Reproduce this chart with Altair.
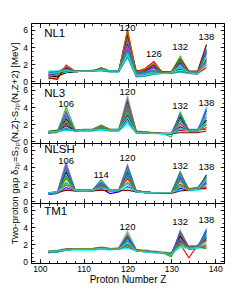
import altair as alt
import pandas as pd

# ---------------- data ----------------
Z = [102, 104, 106, 108, 110, 112, 114, 116, 118, 120, 122, 124, 126, 128, 130, 132, 134, 136, 138]

line_ids = ["L01", "L02", "L03", "L04", "L05", "L06", "L07", "L08", "L09", "L10",
            "L11", "L12", "L13", "L14"]
line_colors = ["#000000", "#ff0000", "#00dd00", "#0000ff", "#a0a0a0",
               "#ff00ff", "#1f8f1f", "#00ffff", "#00a0a0", "#990000",
               "#5954d9", "#009999", "#808000", "#33cccc"]

nl1 = [
    [0.5, 0.6, 1.0, 1.1, 1.2, 1.2, 1.3, 1.2, 1.2, 5.6, 0.6, 0.8, 1.0, 1.0, 1.0, 1.4, 1.0, 1.0, 2.6],
    [0.4, 0.2, 1.9, 1.2, 1.2, 1.2, 1.4, 1.2, 1.2, 6.0, 1.1, 1.5, 2.3, 1.0, 1.0, 1.2, 1.0, 0.9, 1.6],
    [0.9, 1.0, 1.1, 1.2, 1.2, 1.2, 1.5, 1.2, 1.2, 5.0, 0.8, 1.0, 1.3, 1.0, 1.1, 2.9, 1.1, 1.0, 1.9],
    [0.7, 0.9, 1.5, 1.2, 1.2, 1.2, 1.3, 1.2, 1.2, 4.4, 0.9, 1.2, 1.7, 1.0, 1.0, 2.2, 1.1, 1.1, 3.4],
    [1.0, 1.1, 1.7, 1.2, 1.2, 1.3, 1.4, 1.2, 1.2, 4.9, 1.0, 1.4, 2.0, 1.1, 1.1, 1.7, 1.1, 1.1, 3.0],
    [0.8, 0.9, 1.3, 1.1, 1.2, 1.2, 1.5, 1.2, 1.2, 3.9, 0.7, 0.9, 1.5, 1.0, 1.0, 2.5, 1.1, 1.0, 2.2],
    [1.1, 1.2, 1.2, 1.2, 1.2, 1.2, 1.6, 1.2, 1.2, 3.4, 1.1, 1.1, 1.1, 1.0, 1.0, 2.0, 1.0, 1.0, 4.2],
    [1.2, 1.2, 1.1, 1.2, 1.2, 1.2, 1.3, 1.1, 1.1, 3.0, 0.6, 0.7, 0.9, 0.9, 1.0, 1.3, 1.1, 1.0, 2.8],
    [0.6, 0.8, 1.2, 1.1, 1.2, 1.2, 1.2, 1.1, 1.1, 2.8, 0.5, 0.6, 0.8, 0.9, 0.9, 1.1, 0.9, 0.8, 3.8],
    [0.3, 0.4, 1.6, 1.2, 1.2, 1.2, 1.4, 1.2, 1.2, 5.3, 1.2, 1.3, 1.9, 1.1, 1.1, 2.6, 1.2, 1.2, 4.3],
    [0.8, 1.0, 1.4, 1.2, 1.2, 1.2, 1.4, 1.2, 1.2, 4.6, 0.8, 1.1, 1.6, 1.0, 1.0, 2.0, 1.0, 1.0, 3.6],
    [1.0, 1.1, 1.2, 1.2, 1.2, 1.2, 1.3, 1.2, 1.2, 3.7, 0.9, 1.0, 1.2, 1.0, 1.0, 1.6, 1.0, 1.0, 3.2],
    [0.6, 0.7, 1.8, 1.2, 1.2, 1.2, 1.5, 1.2, 1.2, 5.8, 1.0, 1.4, 2.1, 1.0, 1.1, 2.4, 1.1, 1.1, 2.4],
    [0.9, 1.0, 1.3, 1.1, 1.2, 1.2, 1.3, 1.2, 1.2, 3.2, 0.7, 0.8, 1.0, 0.9, 1.0, 1.8, 1.0, 0.9, 2.0],
]

nl3 = [
    [1.0, 1.1, 2.6, 1.3, 1.3, 1.3, 1.6, 1.3, 1.3, 4.5, 1.1, 1.0, 1.0, 0.9, 0.9, 2.8, 1.1, 1.1, 2.5],
    [1.1, 1.2, 1.5, 1.2, 1.3, 1.3, 1.8, 1.3, 1.3, 5.0, 1.2, 1.1, 1.0, 1.0, 0.9, 1.3, 1.2, 1.2, 1.6],
    [0.9, 1.0, 4.0, 1.4, 1.3, 1.3, 1.5, 1.3, 1.3, 3.2, 1.0, 1.0, 1.0, 0.9, 0.5, 3.4, 1.3, 1.3, 2.0],
    [1.0, 1.1, 1.8, 1.2, 1.3, 1.3, 1.4, 1.3, 1.3, 2.6, 1.0, 1.0, 0.9, 0.9, 0.8, 1.7, 1.2, 1.2, 3.6],
    [1.1, 1.2, 3.6, 1.3, 1.3, 1.4, 1.7, 1.4, 1.4, 5.3, 1.1, 1.1, 1.0, 1.0, 1.0, 2.3, 1.3, 1.3, 3.0],
    [1.0, 1.1, 3.1, 1.3, 1.3, 1.3, 1.5, 1.3, 1.3, 3.8, 1.0, 1.0, 0.9, 0.9, 0.9, 2.0, 1.2, 1.2, 2.3],
    [1.2, 1.3, 2.2, 1.3, 1.4, 1.4, 1.9, 1.4, 1.4, 4.1, 1.1, 1.1, 1.0, 0.9, 0.9, 3.0, 1.3, 1.3, 1.4],
    [1.0, 1.1, 1.3, 1.2, 1.2, 1.2, 1.3, 1.2, 1.2, 2.0, 0.9, 0.9, 0.9, 0.8, 0.9, 1.1, 1.1, 1.1, 4.0],
    [1.1, 1.1, 1.4, 1.2, 1.2, 1.2, 1.4, 1.2, 1.2, 2.3, 1.0, 0.9, 0.9, 0.9, 0.9, 1.4, 1.4, 1.4, 3.3],
    [1.0, 1.2, 2.0, 1.2, 1.3, 1.3, 1.6, 1.3, 1.3, 3.0, 1.1, 1.0, 1.0, 0.9, 0.9, 1.0, 1.0, 1.0, 1.2],
    [1.0, 1.1, 3.4, 1.3, 1.3, 1.3, 1.6, 1.3, 1.3, 4.8, 1.1, 1.0, 1.0, 0.9, 0.9, 3.2, 1.2, 1.2, 3.8],
    [1.1, 1.2, 2.9, 1.3, 1.3, 1.3, 1.5, 1.3, 1.3, 3.5, 1.0, 1.0, 0.9, 0.9, 0.8, 2.5, 1.2, 1.2, 2.8],
    [1.0, 1.1, 2.4, 1.3, 1.3, 1.3, 1.7, 1.3, 1.3, 4.3, 1.1, 1.0, 1.0, 0.9, 0.9, 2.1, 1.2, 1.2, 1.9],
    [1.1, 1.1, 1.6, 1.2, 1.3, 1.3, 1.4, 1.3, 1.3, 2.8, 1.0, 1.0, 0.9, 0.9, 0.9, 1.5, 1.2, 1.2, 2.2],
]

nlsh = [
    [0.9, 1.0, 3.4, 1.4, 1.3, 1.3, 1.8, 1.3, 1.3, 3.4, 1.2, 1.1, 1.0, 1.0, 1.0, 2.7, 1.3, 1.4, 2.2],
    [1.0, 1.1, 1.9, 1.3, 1.3, 1.3, 2.1, 1.3, 1.3, 2.6, 1.2, 1.1, 1.0, 1.0, 1.0, 1.8, 1.4, 1.5, 1.5],
    [0.9, 1.0, 2.6, 1.3, 1.3, 1.3, 1.6, 1.3, 1.3, 3.9, 1.1, 1.0, 1.0, 1.0, 1.0, 3.5, 1.3, 1.4, 2.6],
    [0.8, 0.9, 1.6, 1.2, 1.3, 1.2, 1.5, 0.9, 1.1, 1.7, 1.2, 1.1, 1.0, 1.0, 1.0, 1.5, 1.3, 1.4, 3.1],
    [1.0, 1.1, 4.6, 1.4, 1.3, 1.3, 2.4, 1.3, 1.3, 4.3, 1.2, 1.1, 1.0, 1.0, 1.0, 2.3, 1.4, 1.5, 1.8],
    [0.9, 1.0, 4.0, 1.4, 1.3, 1.3, 1.9, 1.3, 1.3, 3.0, 1.1, 1.0, 1.0, 1.0, 1.0, 3.0, 1.4, 1.6, 2.0],
    [1.0, 1.1, 2.2, 1.3, 1.3, 1.3, 1.7, 1.3, 1.3, 2.2, 1.2, 1.1, 1.0, 1.0, 1.0, 2.0, 1.5, 1.6, 2.9],
    [0.9, 1.0, 1.4, 1.2, 1.2, 1.2, 1.4, 1.2, 1.2, 1.6, 1.1, 1.0, 0.9, 0.9, 1.0, 1.3, 1.2, 1.3, 1.4],
    [1.0, 1.0, 3.0, 1.3, 1.3, 1.3, 2.5, 1.3, 1.3, 3.6, 1.2, 1.1, 1.0, 1.0, 1.0, 2.6, 1.3, 1.5, 2.4],
    [0.9, 1.0, 1.3, 1.2, 1.2, 1.2, 1.3, 1.2, 1.2, 1.3, 1.1, 1.0, 1.0, 0.9, 0.9, 1.2, 1.3, 1.4, 1.6],
    [0.9, 1.0, 4.3, 1.4, 1.3, 1.3, 2.2, 1.3, 1.3, 4.1, 1.2, 1.1, 1.0, 1.0, 1.0, 3.3, 1.4, 1.5, 2.8],
    [1.0, 1.0, 3.7, 1.3, 1.3, 1.3, 2.0, 1.3, 1.3, 3.2, 1.1, 1.0, 1.0, 1.0, 1.0, 2.9, 1.3, 1.5, 2.1],
    [0.9, 1.0, 2.8, 1.3, 1.3, 1.3, 1.8, 1.3, 1.3, 2.8, 1.2, 1.1, 1.0, 1.0, 1.0, 2.4, 1.4, 1.5, 1.7],
    [1.0, 1.1, 2.0, 1.3, 1.3, 1.3, 1.6, 1.3, 1.3, 2.0, 1.1, 1.0, 1.0, 1.0, 1.0, 1.7, 1.3, 1.4, 2.5],
]

tm1 = [
    [1.1, 1.2, 1.4, 1.4, 1.4, 1.4, 1.5, 1.4, 1.5, 2.8, 1.3, 1.2, 1.1, 1.0, 0.9, 3.0, 1.5, 1.6, 2.7],
    [1.1, 1.2, 1.3, 1.4, 1.4, 1.4, 1.5, 1.4, 1.4, 1.6, 1.3, 1.2, 1.1, 1.0, 1.0, 2.0, 0.4, 1.9, 2.4],
    [1.0, 1.1, 1.3, 1.4, 1.4, 1.4, 1.6, 1.4, 1.5, 3.2, 1.3, 1.2, 1.1, 1.0, 0.5, 3.6, 1.6, 1.6, 1.6],
    [1.1, 1.2, 1.4, 1.4, 1.4, 1.4, 1.5, 1.4, 1.4, 1.9, 1.2, 1.2, 1.1, 1.0, 0.9, 2.4, 1.4, 1.5, 3.5],
    [1.2, 1.3, 1.5, 1.5, 1.5, 1.5, 1.7, 1.5, 1.6, 3.5, 1.4, 1.3, 1.2, 1.1, 1.0, 2.7, 1.6, 1.7, 2.2],
    [1.1, 1.2, 1.4, 1.4, 1.4, 1.4, 1.6, 1.4, 1.5, 2.4, 1.3, 1.2, 1.1, 1.0, 0.8, 3.3, 1.7, 1.7, 3.0],
    [1.2, 1.2, 1.4, 1.5, 1.5, 1.5, 1.6, 1.5, 1.5, 2.2, 1.3, 1.2, 1.1, 1.0, 0.7, 1.9, 1.5, 1.6, 1.5],
    [1.0, 1.1, 1.3, 1.3, 1.3, 1.3, 1.4, 1.3, 1.4, 1.5, 1.2, 1.1, 1.0, 0.9, 0.9, 1.6, 1.5, 1.5, 3.9],
    [1.1, 1.1, 1.3, 1.4, 1.4, 1.4, 1.5, 1.4, 1.4, 2.0, 1.2, 1.1, 1.0, 1.0, 0.9, 2.1, 1.8, 1.8, 3.2],
    [1.0, 1.2, 1.4, 1.4, 1.4, 1.4, 1.6, 1.4, 1.4, 2.9, 1.3, 1.2, 1.1, 1.0, 0.9, 2.9, 1.6, 1.7, 1.8],
    [1.1, 1.2, 1.4, 1.4, 1.4, 1.4, 1.6, 1.4, 1.5, 3.0, 1.3, 1.2, 1.1, 1.0, 0.8, 3.4, 1.6, 1.7, 3.7],
    [1.0, 1.1, 1.3, 1.4, 1.4, 1.4, 1.5, 1.4, 1.4, 2.6, 1.2, 1.2, 1.1, 1.0, 0.9, 2.6, 1.5, 1.6, 2.9],
    [1.2, 1.2, 1.4, 1.5, 1.5, 1.5, 1.6, 1.5, 1.5, 1.8, 1.3, 1.2, 1.1, 1.0, 0.9, 2.2, 1.6, 1.7, 2.5],
    [1.1, 1.2, 1.3, 1.4, 1.4, 1.4, 1.5, 1.4, 1.4, 2.2, 1.2, 1.1, 1.0, 1.0, 0.8, 1.8, 1.5, 1.6, 2.0],
]

panel_names = ["NL1", "NL3", "NLSH", "TM1"]
panel_lines = [nl1, nl3, nlsh, tm1]

# peak annotations: Z of the peak, text, height (MeV) of the label
peak_z = [[120, 126, 132, 138], [106, 120, 132, 138], [106, 114, 120, 132, 138], [120, 132, 138]]
peak_text = [["120", "126", "132", "138"], ["106", "120", "132", "138"],
             ["106", "114", "120", "132", "138"], ["120", "132", "138"]]
peak_h = [[6.25, 3.2, 3.95, 5.2], [4.3, 5.75, 4.1, 4.5],
          [4.75, 3.1, 5.1, 4.1, 4.05], [3.95, 4.6, 4.85]]
name_h = [5.55, 5.5, 5.95, 5.8]

y_title = "Two-proton gap δ₂ₚ=S₂ₚ(N,Z)-S₂ₚ(N,Z+2) [MeV]"
FONT = "Liberation Sans"

x_major = [100, 110, 120, 130, 140]
x_minor = list(range(98, 143, 2))
y_major = [0, 2, 4, 6]
y_minor = [0, 0.5, 1, 1.5, 2, 2.5, 3, 3.5, 4, 4.5, 5, 5.5, 6, 6.5]

PW, PH = 193, 60
xs = alt.Scale(domain=[98, 142], nice=False, zero=False)
ys = alt.Scale(domain=[-0.2, 6.8], nice=False, zero=False)


def ax(orient, values, size, labels=False, **kw):
    return alt.Axis(orient=orient, values=values, tickSize=size, offset=-size,
                    labels=labels, domain=False, grid=False, tickColor="black",
                    tickWidth=0.8, labelColor="black", labelFontSize=8.5,
                    titleColor="black", titleFontWeight="normal", **kw)


def make_panel(i):
    rows = []
    for lid, vals in zip(line_ids, panel_lines[i]):
        for z, v in zip(Z, vals):
            rows.append({"Z": z, "gap": v, "line": lid})
    df = pd.DataFrame(rows)
    bottom = i == 3

    if bottom:
        xa = ax("bottom", x_major, 4.5, labels=True, labelPadding=1.5,
                title="Proton Number Z", titleFontSize=10, titlePadding=1)
    else:
        xa = ax("bottom", x_major, 4.5, title=None)
    if i == 1:
        ya = ax("left", y_major, 4, labels=True, labelPadding=3.5, title=y_title,
                titleFontSize=9.6, titleAngle=270, titleAlign="center",
                titleBaseline="middle", titleX=-21, titleY=PH)
    else:
        ya = ax("left", y_major, 4, labels=True, labelPadding=3.5, title=None)

    lines = alt.Chart(df).mark_line(strokeWidth=1.1, clip=True).encode(
        x=alt.X("Z:Q", scale=xs, axis=xa),
        y=alt.Y("gap:Q", scale=ys, axis=ya),
        color=alt.Color("line:N", scale=alt.Scale(domain=line_ids, range=line_colors), legend=None),
    )
    d1 = alt.Chart(df).mark_point(opacity=0).encode(
        x=alt.X("Z:Q", scale=xs, axis=ax("bottom", x_minor, 2.5, title=None)),
        y=alt.Y("gap:Q", scale=ys, axis=ax("left", y_minor, 2.2, title=None)),
    )
    d2 = alt.Chart(df).mark_point(opacity=0).encode(
        x=alt.X("Z:Q", scale=xs, axis=ax("top", x_major, 4.5, title=None)),
        y=alt.Y("gap:Q", scale=ys, axis=ax("right", y_major, 4, title=None)),
    )
    d3 = alt.Chart(df).mark_point(opacity=0).encode(
        x=alt.X("Z:Q", scale=xs, axis=ax("top", x_minor, 2.5, title=None)),
        y=alt.Y("gap:Q", scale=ys, axis=ax("right", y_minor, 2.2, title=None)),
    )
    pk = pd.DataFrame({"Z": peak_z[i], "h": peak_h[i], "t": peak_text[i]})
    peaks = alt.Chart(pk).mark_text(fontSize=9.5, font=FONT, color="black").encode(
        x=alt.X("Z:Q", scale=xs, axis=None),
        y=alt.Y("h:Q", scale=ys, axis=None),
        text="t:N",
    )
    nm = pd.DataFrame({"Z": [101.0], "h": [name_h[i]], "t": [panel_names[i]]})
    name = alt.Chart(nm).mark_text(fontSize=11.5, font=FONT, align="left", color="black").encode(
        x=alt.X("Z:Q", scale=xs, axis=None),
        y=alt.Y("h:Q", scale=ys, axis=None),
        text="t:N",
    )
    return alt.layer(lines, d1, d2, d3, peaks, name).resolve_axis(
        x="independent", y="independent").properties(width=PW, height=PH)


chart = alt.vconcat(*[make_panel(i) for i in range(4)], spacing=0, bounds="flush").properties(
    padding={"left": 0, "top": 14, "right": 4, "bottom": 4}
).configure_view(stroke="black", strokeWidth=1).configure_axis(
    labelFont=FONT, titleFont=FONT
).configure_text(font=FONT)

chart.save("out.html", embed_options={"renderer": "svg", "actions": False})
